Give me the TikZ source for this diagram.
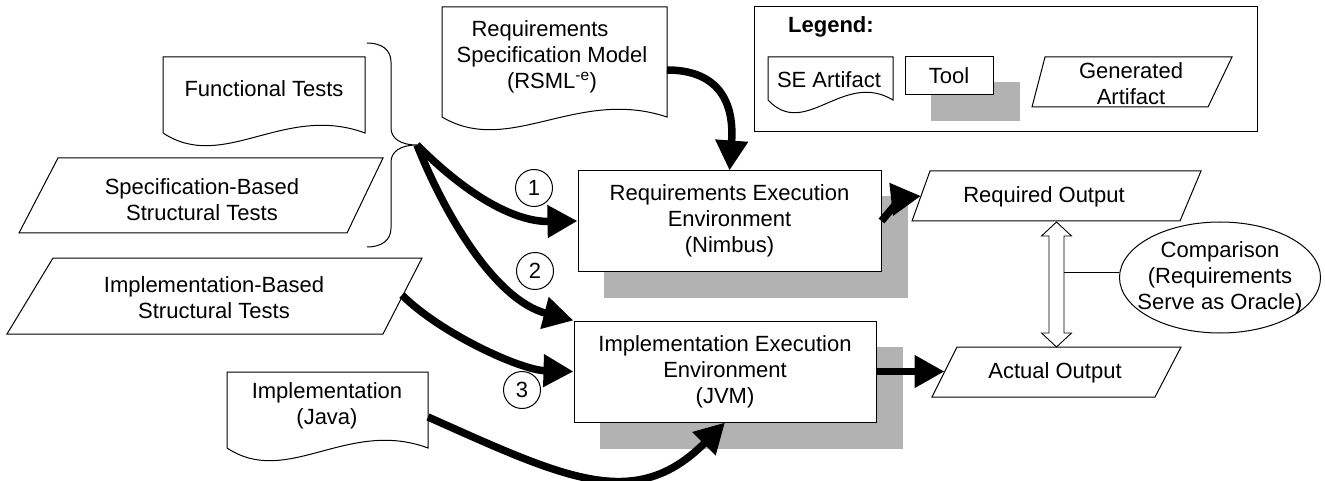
\documentclass[tikz,border=0pt]{standalone}
\usepackage{fontspec}
\setmainfont{Liberation Sans}
\usetikzlibrary{arrows.meta,calc,shapes.geometric,backgrounds}
\definecolor{shadowgray}{RGB}{178,178,178}

% document symbol: flat top, wavy bottom edge
\newcommand\docshape[4]{%
  \draw[outline, fill=white] (#1,#4) -- (#1,#2) -- (#3,#2) -- (#3,#4)
    .. controls ({#1+0.6*(#3-#1)},{#4-30}) and ({#1+0.3*(#3-#1)},{#4+40}) .. cycle;}

\begin{document}
\begin{tikzpicture}[x=1pt,y=-1pt,
  txt/.style={font=\fontsize{22}{26}\selectfont, inner sep=0pt, align=center},
  outline/.style={draw=black, line width=1pt},
  toolbox/.style={outline, fill=white, inner sep=0pt, txt},
  flow/.style={line width=7.5pt, -{Triangle[length=30pt,width=31pt]}},
  stepnum/.style={circle, draw=black, line width=1pt, fill=white, minimum size=37pt,
    inner sep=0pt, font=\fontsize{22}{26}\selectfont},
]
\useasboundingbox (0,0) rectangle (1325,481);

% ---------- legend ----------
\draw[outline] (754,7) rectangle (1257,132);
\node[txt, anchor=base west, font=\fontsize{22}{26}\selectfont\bfseries] (legendtitle) at (788,33) {Legend:};
\docshape{768}{57}{893}{100}
\node[txt, anchor=base] (lgart) at (829,88) {SE Artifact};
\node[toolbox, minimum width=88pt, minimum height=38pt] (lgtool) at (949,76) {Tool};
\draw[outline] (1045,57) -- (1232,57) -- (1208,107) -- (1032,107) -- cycle;
\node[txt] (lggen) at (1131,83.5) {Generated\\Artifact};

% ---------- test inputs ----------
\docshape{163}{57}{365}{133}
\node[txt, anchor=base] (functests) at (264,97) {Functional Tests};

\draw[outline] (58,158) -- (383,158) -- (347,233) -- (19,233) -- cycle;
\node[txt] (spectests) at (202,199.5) {Specification-Based\\Structural Tests};

\draw[outline] (53,258) -- (422,258) -- (383,334) -- (7,334) -- cycle;
\node[txt] (impltests) at (214,297.5) {Implementation-Based\\Structural Tests};
\coordinate (implR) at (402,295);

% brace grouping the functional and specification-based tests
\draw[line width=1pt] (367,43) .. controls (382,43) and (391,50) .. (391,62)
  -- (391,128) .. controls (391,138) and (400,145) .. (417,145)
  .. controls (400,145) and (391,152) .. (391,162)
  -- (391,228) .. controls (391,240) and (382,247) .. (367,247);
\coordinate (bt) at (417,145);

% ---------- models ----------
\docshape{442}{7}{667}{117}
\node[txt] (rsm) at (552,56.5) {Requirements\kern24pt\\Specification Model\\(RSML\textsuperscript{-e})};
\coordinate (rsmR) at (667,70);

\docshape{227}{372}{428}{448}
\node[txt] (java) at (327,405.5) {Implementation\\(Java)};
\coordinate (javaR) at (428,417);

% ---------- tools with shadows ----------
\node[toolbox, minimum width=303pt, minimum height=100pt] (ree) at (729.5,221)
  {Requirements Execution\\Environment\\(Nimbus)};
\node[toolbox, minimum width=302pt, minimum height=101pt] (iee) at (725,371.5)
  {Implementation Execution\\Environment\\(JVM)};
\begin{scope}[on background layer]
  \foreach \b in {ree,iee,lgtool}
    \fill[shadowgray] ([shift={(26,26)}]\b.north west) rectangle ([shift={(26,26)}]\b.south east);
\end{scope}

% ---------- outputs ----------
\draw[outline] (930,171) -- (1201,171) -- (1180,221) -- (912,221) -- cycle;
\node[txt, anchor=base] (reqout) at (1044,203) {Required Output};
\coordinate (reqL) at (921,196);

\draw[outline] (957,347) -- (1181,347) -- (1155,397) -- (932,397) -- cycle;
\node[txt, anchor=base] (actout) at (1055,378) {Actual Output};
\coordinate (actL) at (944.5,371.5);

% comparison
\coordinate (dt) at (1056.5,222);
\coordinate (db) at (1056.5,347);
\draw[draw=black, line width=0.9pt, fill=white] (dt) -- ++(15,14) -- ++(-7.5,0)
  -- ($(db)+(7.5,-14)$) -- ++(7.5,0) -- (db) -- ++(-15,-14) -- ++(7.5,0)
  -- ($(dt)+(-7.5,14)$) -- ++(-7.5,0) -- cycle;
\node[ellipse, draw=black, line width=1pt, minimum width=201pt, minimum height=111pt,
  inner sep=0pt] (oracle) at (1220,277.5) {};
\node[txt] (oracletext) at (1220,277.5) {Comparison\\(Requirements\\Serve as Oracle)};
\coordinate (dmid) at (1064,272);
\draw[line width=0.9pt] (dmid) -- (dmid -| oracle.west);

% ---------- flows ----------
\draw[flow] (rsmR) .. controls (712,70) and (735,95) .. (ree.north);
\draw[flow] (bt) .. controls (472,200) and (518,222) .. (ree.west);
\draw[flow] (bt) .. controls (445,215) and (495,300) .. (iee.north west);
\draw[flow] (implR) .. controls (440,333) and (520,370) .. (iee.west);
\draw[flow] (javaR) .. controls (565,478) and (635,513) .. (iee.south);
\draw[flow] (ree.east) .. controls (893,207) and (903,198) .. (reqL);
\draw[flow] (iee.east) -- (actL);

% step numbers
\node[stepnum] (s1) at (534,188) {1};
\node[stepnum] (s2) at (535,271) {2};
\node[stepnum] (s3) at (522,390) {3};
\end{tikzpicture}
\end{document}
